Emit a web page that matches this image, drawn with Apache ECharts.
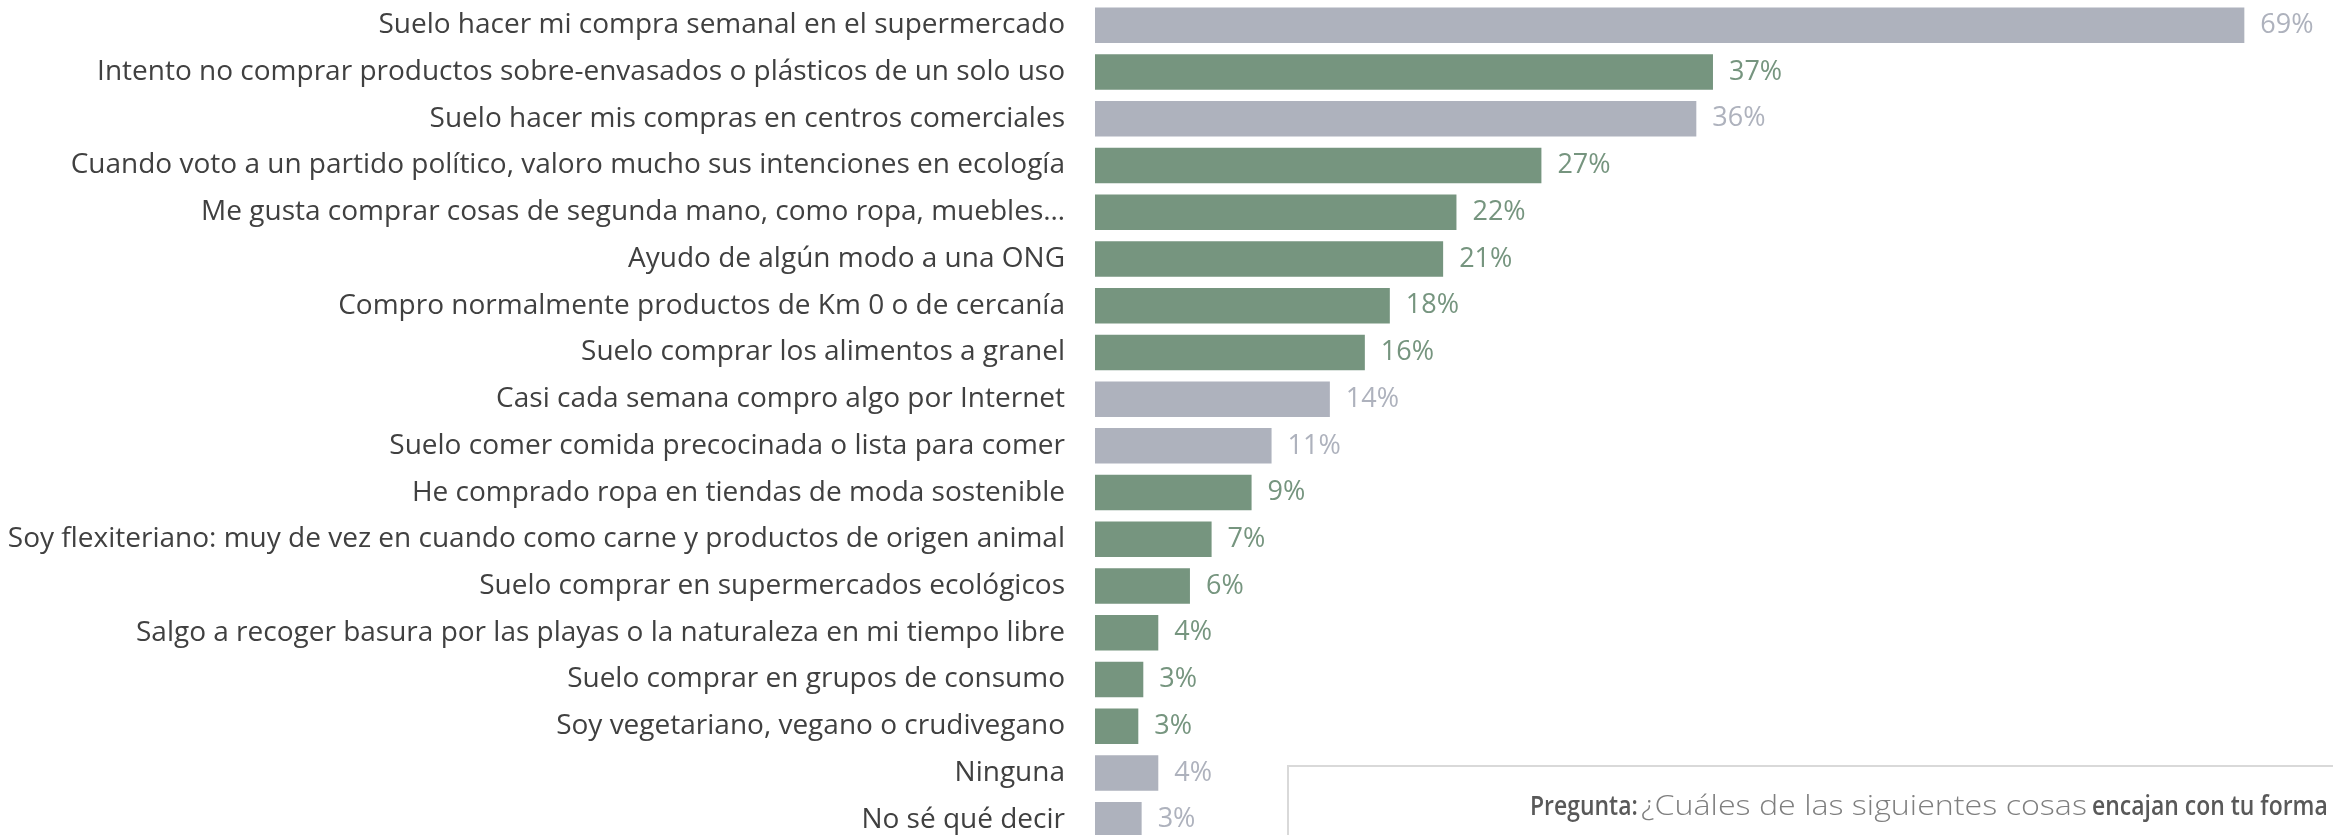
<!DOCTYPE html>
<html>
<head>
	<meta charset="UTF-8">
	<title>Hábitos de consumo</title>
	<style type="text/css">
		html, body { margin: 0; padding: 0; background: #fff; overflow: hidden; }
		#barChart { width: 2333px; height: 845px; }
	</style>
	<script src="https://cdn.jsdelivr.net/npm/echarts@6/dist/echarts.min.js"></script>
</head>
<body>
	<div id="barChart"></div>

<script type="text/javascript">
// categorias (de arriba abajo)
var categories = [
	'Suelo hacer mi compra semanal en el supermercado',
	'Intento no comprar productos sobre-envasados o plásticos de un solo uso',
	'Suelo hacer mis compras en centros comerciales',
	'Cuando voto a un partido político, valoro mucho sus intenciones en ecología',
	'Me gusta comprar cosas de segunda mano, como ropa, muebles…',
	'Ayudo de algún modo a una ONG',
	'Compro normalmente productos de Km 0 o de cercanía',
	'Suelo comprar los alimentos a granel',
	'Casi cada semana compro algo por Internet',
	'Suelo comer comida precocinada o lista para comer',
	'He comprado ropa en tiendas de moda sostenible',
	'Soy flexiteriano: muy de vez en cuando como carne y productos de origen animal',
	'Suelo comprar en supermercados ecológicos',
	'Salgo a recoger basura por las playas o la naturaleza en mi tiempo libre',
	'Suelo comprar en grupos de consumo',
	'Soy vegetariano, vegano o crudivegano',
	'Ninguna',
	'No sé qué decir'
];

// porcentaje (%)
var values = [69, 37.1, 36.1, 26.8, 21.7, 20.9, 17.7, 16.2, 14.1, 10.6, 9.4, 7.0, 5.7, 3.8, 2.9, 2.6, 3.8, 2.8];

// g = habito general (gris), s = habito sostenible (verde)
var groups = ['g', 's', 'g', 's', 's', 's', 's', 's', 'g', 'g', 's', 's', 's', 's', 's', 's', 'g', 'g'];

var colorGray = '#aeb2bd';
var colorGreen = '#76957f';
var fontName = '"Open Sans", Lato, sans-serif';

var barChart;

function f_initBarChart(){
	barChart = echarts.init(document.getElementById('barChart'));

	var seriesData = values.map(function(v, i){
		var c = groups[i] === 'g' ? colorGray : colorGreen;
		return {
			value: v,
			itemStyle: { color: c },
			label: { color: c }
		};
	});

	var option = {
		animation: false,
		grid: {
			left: 1095,
			right: 72,
			top: 2,
			bottom: 2,
			containLabel: false
		},
		xAxis: {
			type: 'value',
			min: 0,
			max: 70,
			show: false
		},
		yAxis: {
			type: 'category',
			inverse: true,
			data: categories,
			axisLine: { show: false },
			axisTick: { show: false },
			axisLabel: {
				color: '#404040',
				fontFamily: fontName,
				fontSize: 28,
				margin: 30
			}
		},
		series: [{
			type: 'bar',
			data: seriesData,
			barCategoryGap: '24%',
			label: {
				show: true,
				position: 'right',
				distance: 16,
				fontFamily: fontName,
				fontSize: 27,
				formatter: function(p){
					return Math.round(p.value) + '%';
				}
			}
		}],
		// recuadro con la pregunta (cortado por abajo y a la derecha)
		graphic: [{
			type: 'rect',
			left: 1287,
			top: 765,
			shape: { width: 1100, height: 120 },
			style: { fill: '#fff', stroke: '#d9d9d9', lineWidth: 2 },
			z: 10
		}, {
			type: 'text',
			left: 1530,
			top: 794,
			scaleX: 0.85,
			z: 11,
			style: { text: 'Pregunta:', font: '600 27px "Open Sans", sans-serif', fill: '#595959' }
		}, {
			type: 'text',
			left: 1641,
			top: 793,
			scaleX: 1.15,
			z: 11,
			style: { text: '¿Cuáles de las siguientes cosas', font: '300 28px "Open Sans", sans-serif', fill: '#7f7f7f' }
		}, {
			type: 'text',
			left: 2092,
			top: 794,
			scaleX: 0.85,
			z: 11,
			style: { text: 'encajan con tu forma de', font: '600 27px "Open Sans", sans-serif', fill: '#595959' }
		}]
	};
	barChart.setOption(option);
}

f_initBarChart();
</script>
</body>
</html>
